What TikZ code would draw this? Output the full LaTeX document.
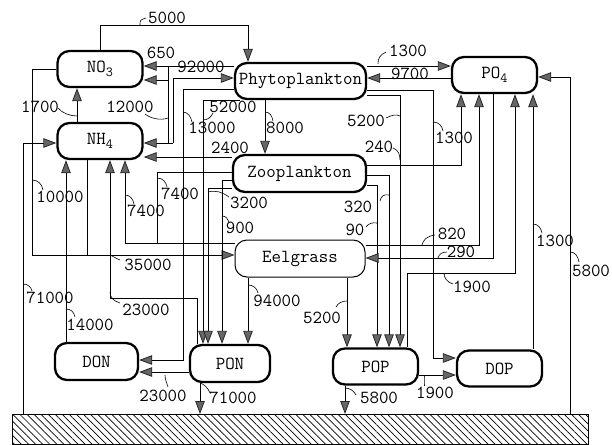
\documentclass[tikz,border=0pt]{standalone}
\usetikzlibrary{arrows.meta,patterns.meta}
\newcommand{\sbs}[1]{\raisebox{-0.45ex}{\fontsize{12}{13}\selectfont #1}}
\newcommand{\tx}[1]{\scalebox{1.15}{#1}}
\begin{document}
\begin{tikzpicture}[x=1pt,y=-1pt,
  font=\ttfamily\fontsize{16}{18}\selectfont,
  box/.style={draw, line width=2.3pt, rounded corners=12pt, minimum width=85pt, minimum height=36pt, inner sep=0pt},
  flow/.style={line width=0.8pt},
  arr/.style={-{Triangle[length=13pt,width=9.5pt,fill=black!60,color=black!85]}},
  lbl/.style={inner sep=0.5pt},
  tk/.style={line width=0.6pt}]
\useasboundingbox (0,0) rectangle (612,444);
% boxes
\node[box] (no3) at (100,69) {\tx{NO\sbs{3}}};
\node[box] (nh4) at (100,141) {\tx{NH\sbs{4}}};
\node[box, minimum width=131pt] (phy) at (300.5,81) {\tx{Phytoplankton}};
\node[box] (po4) at (494.5,75) {\tx{PO\sbs{4}}};
\node[box, minimum width=133pt, minimum height=37pt] (zoo) at (299.5,173.5) {\tx{Zooplankton}};
\node[box, line width=1pt, minimum width=130pt, minimum height=37pt] (eel) at (300,258.5) {\tx{Eelgrass}};
\node[box, minimum width=83pt, minimum height=37pt] (don) at (96.5,361.5) {\tx{DON}};
\node[box, minimum width=80pt, minimum height=37pt] (pon) at (230,363.5) {\tx{PON}};
\node[box] (pop) at (375.5,366.5) {\tx{POP}};
\node[box] (dop) at (499.5,368.5) {\tx{DOP}};
\node[draw, line width=1.2pt, pattern={Lines[angle=-45,distance=5pt,line width=0.7pt]}, minimum width=576pt, minimum height=30pt, inner sep=0pt, anchor=north west] (sed) at (12,414) {};

% nitrogen side
\draw[flow,arr] (no3.north) |- (248,25) -- (phy.north -| 248,0);
\draw[flow,arr] (phy.west |- 0,66) -- (no3.east |- 0,66);
\draw[flow,arr] (168,66) -- (168,80) -- (no3.east |- 0,80);
\draw[flow] (168,80) -- (168,143);
\draw[flow,arr] (173,143) -- (nh4.east |- 0,143);
\draw[flow,arr] (173,143) -- (173,78) -- (phy.west |- 0,78);
\draw[flow,arr] (nh4.north -| 77,0) -- (no3.south -| 77,0);
\draw[flow,arr] (no3.west) -| (32,255) -- (eel.west |- 0,255);
\draw[flow] (nh4.south -| 87,0) -- (87,255);
\draw[flow,arr] (sed.north -| 23,0) |- (nh4.west |- 0,143);
\draw[flow,arr] (don.north -| 66,0) -- (nh4.south -| 66,0);
\draw[flow,arr] (pon.north -| 197,0) -- (197,298) -| (nh4.south -| 110,0);
\draw[flow,arr] (eel.west |- 0,243) -| (nh4.south -| 125,0);
\draw[flow] (zoo.west |- 0,172) -| (157,243);
\draw[flow,arr] (zoo.west |- 0,157) -- (nh4.east |- 0,157);
\draw[flow,arr] (phy.west |- 0,89) -| (183,360) -- (don.east |- 0,360);
\draw[flow,arr] (phy.south -| 240,0) -| (pon.north -| 203,0);
\draw[flow,arr] (zoo.west |- 0,188) -| (pon.north -| 208,0);
\draw[flow,arr] (zoo.west |- 0,180) -| (pon.north -| 222,0);
\draw[flow,arr] (phy.south -| 265,0) -- (zoo.north -| 265,0);
\draw[flow,arr] (eel.south -| 248,0) -- (pon.north -| 248,0);
\draw[flow,arr] (eel.south -| 347,0) -- (pop.north -| 347,0);
\draw[flow,arr] (pon.south -| 200,0) -- (sed.north -| 200,0);
\draw[flow,arr] (pon.west |- 0,372) -- (don.east |- 0,372);
\draw[flow,arr] (pop.south -| 345,0) -- (sed.north -| 345,0);
\draw[flow,arr] (pop.east |- 0,375) -- (dop.west |- 0,375);

% phosphorus side
\draw[flow,arr] (phy.east |- 0,66) -- (po4.west |- 0,66);
\draw[flow,arr] (po4.west |- 0,78) -- (phy.east |- 0,78);
\draw[flow,arr] (phy.east |- 0,90) -| (433,358) -- (dop.west |- 0,358);
\draw[flow,arr] (phy.east |- 0,95) -| (pop.north -| 400,0);
\draw[flow,arr] (zoo.east |- 0,165) -| (po4.south -| 461,0);
\draw[flow,arr] (zoo.east |- 0,175) -| (pop.north -| 389,0);
\draw[flow,arr] (zoo.east |- 0,185) -| (pop.north -| 377,0);
\draw[flow,arr] (eel.east |- 0,245) -| (po4.south -| 479,0);
\draw[flow,arr] (po4.south -| 493,0) |- (eel.east |- 0,258);
\draw[flow,arr] (pop.north -| 407,0) |- (515,273) -- (po4.south -| 515,0);
\draw[flow,arr] (dop.north -| 533,0) -- (po4.south -| 533,0);
\draw[flow,arr] (sed.north -| 570,0) |- (po4.east |- 0,77);

% labels
\node[lbl] at (167,18) {\tx{5000}};
\node[lbl] at (161,53) {\tx{650}};
\node[lbl] at (201,67) {\tx{92000}};
\node[lbl] at (130,107) {\tx{12000}};
\node[lbl] at (40,107) {\tx{1700}};
\node[lbl] at (212,128) {\tx{13000}};
\node[lbl] at (233,107) {\tx{52000}};
\node[lbl] at (285,128) {\tx{8000}};
\node[lbl] at (230,148) {\tx{2400}};
\node[lbl] at (180,194) {\tx{7400}};
\node[lbl] at (146,211) {\tx{7400}};
\node[lbl] at (60,197) {\tx{10000}};
\node[lbl] at (148,265) {\tx{35000}};
\node[lbl] at (249,203) {\tx{3200}};
\node[lbl] at (240,228) {\tx{900}};
\node[lbl] at (358,207) {\tx{320}};
\node[lbl] at (355,230) {\tx{90}};
\node[lbl] at (366,121) {\tx{5200}};
\node[lbl] at (379,147) {\tx{240}};
\node[lbl] at (408,51) {\tx{1300}};
\node[lbl] at (410,74) {\tx{9700}};
\node[lbl] at (454,138) {\tx{1300}};
\node[lbl] at (452,234) {\tx{820}};
\node[lbl] at (461,252) {\tx{290}};
\node[lbl] at (472,287) {\tx{1900}};
\node[lbl] at (555,241) {\tx{1300}};
\node[lbl] at (591,271) {\tx{5800}};
\node[lbl] at (50,298) {\tx{71000}};
\node[lbl] at (146,310) {\tx{23000}};
\node[lbl] at (90,325) {\tx{14000}};
\node[lbl] at (277,301) {\tx{94000}};
\node[lbl] at (322,318) {\tx{5200}};
\node[lbl] at (163,396) {\tx{23000}};
\node[lbl] at (233,398) {\tx{71000}};
\node[lbl] at (379,398) {\tx{5800}};
\node[lbl] at (435,393) {\tx{1900}};

% ticks
\draw[tk] (140,25) .. controls (140,20) .. (146,18);
\draw[tk] (168,118) .. controls (160,121) and (150,118) .. (145,114);
\draw[tk] (77,116) .. controls (70,116) and (62,113) .. (58,108);
\draw[tk] (183,112) .. controls (188,112) and (191,117) .. (192,122);
\draw[tk] (203,120) .. controls (208,120) and (211,117) .. (213,113);
\draw[tk] (265,112) .. controls (270,112) and (272,116) .. (273,121);
\draw[tk] (32,180) .. controls (38,180) and (42,184) .. (43,190);
\draw[tk] (157,178) .. controls (163,178) and (166,182) .. (167,187);
\draw[tk] (125,195) .. controls (130,195) and (133,199) .. (134,204);
\draw[tk] (110,255) .. controls (113,256) and (115,258) .. (120,260);
\draw[tk] (208,192) .. controls (216,190) and (222,192) .. (229,197);
\draw[tk] (222,216) .. controls (226,216) and (228,219) .. (229,222);
\draw[tk] (389,195) .. controls (384,194) and (381,196) .. (380,201);
\draw[tk] (377,223) .. controls (372,222) and (368,224) .. (366,227);
\draw[tk] (400,116) .. controls (396,114) and (392,115) .. (386,118);
\draw[tk] (400,160) .. controls (400,154) and (398,150) .. (393,148);
\draw[tk] (378,64) .. controls (378,58) and (380,55) .. (386,52);
\draw[tk] (433,122) .. controls (439,122) and (442,126) .. (443,131);
\draw[tk] (422,245) .. controls (423,240) and (427,236) .. (435,235);
\draw[tk] (438,258) .. controls (439,254) and (442,252) .. (447,252);
\draw[tk] (444,273) .. controls (444,278) and (447,282) .. (453,284);
\draw[tk] (533,224) .. controls (538,224) and (541,228) .. (542,233);
\draw[tk] (570,252) .. controls (575,252) and (578,256) .. (579,262);
\draw[tk] (23,284) .. controls (28,284) and (31,287) .. (32,291);
\draw[tk] (110,292) .. controls (110,298) and (114,301) .. (120,303);
\draw[tk] (66,309) .. controls (71,309) and (74,312) .. (75,317);
\draw[tk] (248,285) .. controls (253,285) and (257,288) .. (258,293);
\draw[tk] (347,301) .. controls (342,301) and (338,303) .. (336,307);
\draw[tk] (165,375) .. controls (165,380) and (167,383) .. (168,387);
\draw[tk] (200,383) .. controls (204,384) and (208,388) .. (210,393);
\draw[tk] (345,388) .. controls (350,388) and (354,391) .. (356,395);
\draw[tk] (424,375) .. controls (424,379) and (424,382) .. (424,386);
\end{tikzpicture}
\end{document}
